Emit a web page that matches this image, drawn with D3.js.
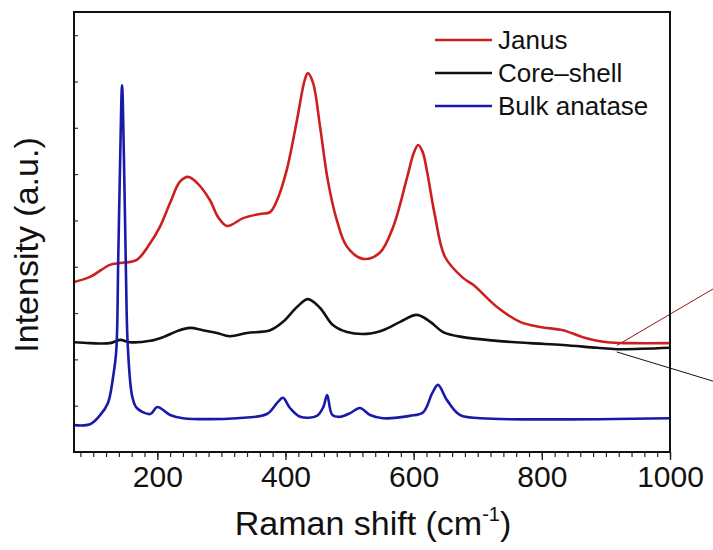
<!DOCTYPE html>
<html><head><meta charset="utf-8">
<script src="https://cdn.jsdelivr.net/npm/d3@7"></script>
<style>
html,body{margin:0;padding:0;background:#fff;}
text{font-family:Arial,"Liberation Sans",sans-serif;fill:#111;}
</style></head>
<body><svg id="c" width="713" height="550"></svg>
<script>
// Raman shift (cm^-1) and intensity (a.u.)
const janusX = [70,95,126,142,168,189,204,220,235,248,262,282,295,309,334,360,376,387,402,418,430,435,443,454,466,480,496,521,547,568,590,600,607,614,621,633,649,677,693,730,766,797,833,864,902,938,1000];
const janusY = [3.67,3.78,4.04,4.08,4.15,4.51,4.86,5.38,5.83,5.94,5.81,5.44,5.07,4.88,5.05,5.14,5.18,5.44,6.09,7.17,8.03,8.18,7.97,7.02,5.87,5.01,4.43,4.17,4.30,4.86,5.94,6.45,6.63,6.48,6.05,5.12,4.21,3.76,3.61,3.13,2.81,2.70,2.63,2.48,2.37,2.35,2.35];

const coreX = [70,95,126,142,157,189,209,231,251,271,293,313,340,376,396,418,435,454,474,496,527,552,579,605,626,646,677,730,782,833,886,917,1000];
const coreY = [2.37,2.35,2.35,2.42,2.37,2.40,2.48,2.61,2.68,2.63,2.57,2.50,2.57,2.63,2.81,3.13,3.30,3.11,2.74,2.59,2.55,2.63,2.81,2.96,2.81,2.59,2.48,2.40,2.35,2.31,2.25,2.22,2.25];

const bulkX = [70,95,111,123,131,136,139,142,145,148,151,154,161,168,189,200,220,240,324,371,387,396,407,423,449,459,465,473,485,501,516,532,552,594,615,629,638,652,672,704,1000];
const bulkY = [0.58,0.60,0.80,1.06,1.62,2.20,4.15,6.30,7.92,6.30,3.93,2.27,1.19,0.95,0.82,0.97,0.80,0.73,0.73,0.82,1.06,1.17,0.95,0.76,0.78,0.97,1.23,0.80,0.76,0.84,0.95,0.80,0.73,0.78,0.86,1.27,1.45,1.12,0.80,0.73,0.73];

const seriesNames = ["Janus","Core\u2013shell","Bulk anatase"];
const seriesColors = ["#cc2020","#111111","#1a1aa8"];
const xTicks = [200,400,600,800,1000];
const xDomain = [70,1000];
const yDomain = [0,9.5];

const svg = d3.select("#c");
const m = {l:74, r:670, t:12, b:452};
const x = d3.scaleLinear().domain(xDomain).range([m.l, m.r]);
const y = d3.scaleLinear().domain(yDomain).range([m.b, m.t]);

const data = [
  d3.zip(janusX, janusY),
  d3.zip(coreX, coreY),
  d3.zip(bulkX, bulkY)
];
const line = d3.line().x(d=>x(d[0])).y(d=>y(d[1])).curve(d3.curveCatmullRom.alpha(0.5));

svg.append("clipPath").attr("id","clip").append("rect")
  .attr("x",m.l).attr("y",m.t).attr("width",m.r-m.l).attr("height",m.b-m.t);

// annotation pointer lines (outside plot on right)
svg.append("line").attr("x1",x(917)).attr("y1",y(2.3)).attr("x2",713).attr("y2",y(3.52))
  .attr("stroke","#a01010").attr("stroke-width",1);
svg.append("line").attr("x1",x(917)).attr("y1",y(2.16)).attr("x2",713).attr("y2",y(1.53))
  .attr("stroke","#111").attr("stroke-width",1);

const g = svg.append("g").attr("clip-path","url(#clip)");
[1,0,2].forEach(i=>{
  g.append("path").datum(data[i]).attr("d",line)
    .attr("fill","none").attr("stroke",seriesColors[i]).attr("stroke-width",2.6)
    .attr("stroke-linejoin","round");
});

// x axis
const xMinor = d3.range(80,1001,20);
const xa = svg.append("g").attr("transform",`translate(0,${m.b})`);
xa.call(d3.axisBottom(x).tickValues(xMinor).tickSize(5).tickFormat(""));
xa.select(".domain").remove();
xa.selectAll("line").attr("stroke","#222").attr("stroke-width",1.2);
const xb = svg.append("g").attr("transform",`translate(0,${m.b})`);
xb.call(d3.axisBottom(x).tickValues(xTicks).tickSize(8).tickPadding(6).tickFormat(d3.format("d")));
xb.select(".domain").remove();
xb.selectAll("line").attr("stroke","#222").attr("stroke-width",1.4);
xb.selectAll("text").attr("font-size",30).attr("fill","#111")
  .style("font-family","Arial, 'Liberation Sans', sans-serif");

// y axis ticks (inside, no labels)
const ya = svg.append("g").attr("transform",`translate(${m.l},0)`);
ya.call(d3.axisRight(y).tickValues(d3.range(1,10,1)).tickSize(4).tickFormat(""));
ya.select(".domain").remove();
ya.selectAll("line").attr("stroke","#333").attr("stroke-width",1.2);

// frame
svg.append("rect").attr("x",m.l).attr("y",m.t).attr("width",m.r-m.l).attr("height",m.b-m.t)
  .attr("fill","none").attr("stroke","#111").attr("stroke-width",2);

// axis titles
const xt = svg.append("text").attr("x",(m.l+m.r)/2 + 1).attr("y",535).attr("text-anchor","middle")
  .attr("font-size",34);
xt.append("tspan").text("Raman shift (cm");
xt.append("tspan").attr("font-size",20).attr("dy",-14).text("-1");
xt.append("tspan").attr("dy",14).text(")");

svg.append("text").attr("transform",`translate(38,${(m.t+m.b)/2 + 13}) rotate(-90)`)
  .attr("text-anchor","middle").attr("font-size",34).text("Intensity (a.u.)");

// legend
const lg = svg.append("g");
seriesNames.forEach((n,i)=>{
  const yy = 40 + i*33;
  lg.append("line").attr("x1",435).attr("x2",492).attr("y1",yy).attr("y2",yy)
    .attr("stroke",seriesColors[i]).attr("stroke-width",2.6);
  lg.append("text").attr("x",498).attr("y",yy+9).attr("font-size",26).text(n);
});
</script>
</body></html>
